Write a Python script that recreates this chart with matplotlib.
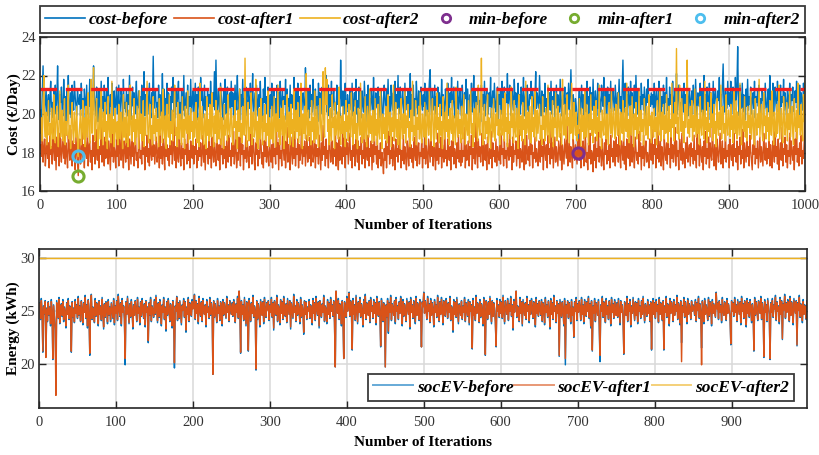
import numpy as np
import matplotlib
matplotlib.use("Agg")
import matplotlib.pyplot as plt
from matplotlib.lines import Line2D

# ---------------------------------------------------------------------------
# Data: one value per iteration, stored as two-digit codes in tenths above a
# base level (value = base + code / 10), 50 iterations per row.
# ---------------------------------------------------------------------------
COST_BASE = 16.0
SOC_BASE = 17.0

cost_before_codes = [
    "42 38 51 65 44 40 47 53 39 45 50 36 49 57 41 46 38 52 44 55 40 48 65 43 37 50 46 54 41 39 58 45 49 36 52 47 60 43 40 51 38 55 46 42 57 49 44 39 53 47",
    "45 50 39 56 43 48 37 53 46 41 55 40 49 44 58 38 51 47 42 65 50 44 39 54 46 36 52 48 41 57 43 49 38 55 45 40 53 47 59 42 37 50 44 56 39 48 52 41 46 54",
    "40 47 55 38 44 52 49 36 58 43 46 41 53 39 50 45 60 42 37 48 54 44 51 40 47 57 38 45 52 43 49 36 55 41 46 62 39 50 44 53 40 48 56 42 38 51 45 70 43 49",
    "52 41 46 38 55 44 50 39 47 61 42 53 37 48 45 56 40 51 43 49 36 54 46 59 41 47 38 52 44 50 57 40 46 35 53 48 42 60 39 45 51 43 55 37 49 44 58 41 47 52",
    "39 48 56 43 50 37 54 45 41 59 47 52 38 46 55 42 49 36 53 44 50 40 57 46 39 51 44 62 42 68 45 38 53 47 41 56 49 43 37 52 46 58 40 48 54 39 45 51 43 57",
    "44 51 38 47 55 42 49 60 40 46 53 37 50 44 58 41 48 36 54 45 39 52 47 43 56 40 49 61 38 45 51 42 55 47 39 50 44 57 41 48 36 53 46 59 43 49 40 54 45 38",
    "50 43 56 39 47 53 41 48 36 55 44 51 38 57 46 42 52 40 49 45 58 37 53 44 48 41 55 39 50 46 43 59 38 47 52 40 56 45 49 37 54 42 48 51 44 39 64 46 41 53",
    "47 38 55 44 50 41 58 46 39 53 43 49 36 56 45 51 40 48 54 42 37 52 46 60 41 47 55 39 50 44 57 38 48 53 42 46 40 55 45 51 43 38 68 49 44 52 40 47 56 43",
    "41 50 45 37 53 48 42 56 39 46 51 44 58 40 47 35 54 43 49 38 52 45 41 57 46 36 50 44 55 39 48 42 53 47 40 59 44 37 51 46 43 54 38 49 45 52 41 34 48 55",
    "46 39 53 44 58 41 49 36 55 47 42 51 38 57 45 50 43 60 40 48 54 37 46 52 44 39 56 42 49 45 53 38 47 61 41 50 44 55 39 48 43 57 46 40 52 37 49 54 45 42",
    "50 44 56 39 47 53 41 48 57 63 45 38 52 46 42 55 40 49 36 54 44 51 47 39 58 43 50 45 37 53 48 41 56 44 39 51 46 59 42 48 54 38 45 50 43 57 40 47 52 44",
    "39 55 46 42 51 48 58 40 53 45 37 50 44 56 41 47 60 43 52 38 49 45 54 41 47 36 55 44 50 42 57 39 48 53 46 40 51 44 59 38 47 52 43 56 45 41 49 54 37 50",
    "45 52 40 57 47 43 54 38 50 46 61 41 49 55 44 39 53 47 42 58 45 51 37 48 56 43 50 40 54 46 44 59 39 47 52 42 55 45 38 50 48 57 41 53 46 40 49 62 43 51",
    "47 43 60 46 39 52 45 50 41 56 44 48 37 54 46 51 42 57 40 49 45 53 38 47 55 43 50 46 41 58 44 39 52 48 45 54 40 47 51 43 56 42 49 63 46 38 50 45 41 48",
    "44 37 20 46 52 40 48 55 43 50 38 47 53 41 57 45 49 36 54 44 51 42 58 40 47 52 45 39 56 43 50 46 41 55 48 44 59 40 47 52 38 54 45 50 43 57 41 48 53 46",
    "42 55 47 40 51 45 58 43 49 37 53 68 46 41 56 44 50 39 54 47 42 57 45 51 38 48 55 43 60 46 40 52 44 49 37 56 45 50 42 54 47 39 53 46 58 41 49 44 51 45",
    "50 43 56 39 48 53 45 41 57 47 52 38 49 44 55 40 51 46 59 42 48 36 54 45 50 43 57 39 47 52 44 61 40 49 55 42 46 38 53 47 41 56 44 50 45 58 39 48 52 43",
    "46 52 40 55 47 43 58 45 38 51 49 44 56 41 53 47 39 60 45 50 42 54 48 37 56 44 51 46 40 57 43 49 53 45 38 52 47 59 42 50 44 55 66 46 41 53 48 43 57 45",
    "51 44 57 40 48 54 46 42 59 47 53 75 45 39 55 48 43 56 41 50 46 37 53 44 58 42 49 45 54 40 47 51 43 57 38 49 46 52 44 55 41 48 36 53 47 50 43 56 45 39",
    "48 53 41 60 46 50 43 56 39 49 54 45 41 57 47 52 38 55 44 49 46 58 42 51 45 37 53 48 43 56 40 50 47 54 44 41 52 46 57 43 49 38 55 45 51 47 42 56 48 52",
]

cost_after1_codes = [
    "24 18 31 15 22 27 13 20 35 17 25 12 29 19 23 14 33 21 16 26 11 28 18 24 13 30 20 15 27 22 17 36 14 25 19 12 29 23 16 32 20 13 26 18 24 11 28 21 15 08",
    "22 27 14 19 31 16 24 12 28 20 17 34 13 23 26 15 21 11 29 18 25 14 32 20 16 27 12 23 19 38 15 24 21 13 28 17 22 30 14 26 19 11 25 18 33 15 23 20 12 27",
    "18 24 13 29 21 16 35 19 12 26 22 15 30 17 23 11 27 20 14 33 18 25 13 22 28 16 20 12 31 24 17 21 14 36 19 26 11 23 18 29 15 22 13 27 20 16 32 18 24 14",
    "21 28 15 19 25 12 30 17 23 14 27 20 11 34 18 24 16 22 13 29 19 26 14 21 40 16 23 12 28 18 15 31 20 13 25 17 22 11 27 19 24 14 33 16 21 12 26 20 17 29",
    "14 23 19 27 12 21 16 32 18 25 13 20 29 15 24 11 26 19 22 14 37 17 23 12 28 20 15 25 18 13 30 21 16 24 11 27 19 22 14 34 17 23 12 26 20 15 29 18 21 13",
    "25 18 31 14 22 27 12 20 16 28 23 13 35 19 24 11 21 17 29 15 26 20 12 23 18 33 14 22 27 16 11 25 19 30 13 21 17 28 24 14 20 12 26 18 32 15 23 19 13 27",
    "20 15 24 12 29 18 22 14 36 19 25 11 27 17 21 13 30 23 16 26 12 20 33 15 24 18 11 28 21 14 25 17 31 13 22 19 27 12 24 16 20 38 14 23 18 26 13 21 29 15",
    "23 17 28 13 21 26 15 19 32 12 24 18 22 14 29 20 11 25 16 34 19 23 13 27 17 21 12 30 24 15 20 26 14 22 18 39 13 25 19 11 28 16 23 20 14 31 18 24 12 27",
    "19 25 14 22 30 16 21 12 27 18 24 13 33 20 15 26 11 23 19 28 14 21 17 35 12 25 20 16 29 13 22 18 26 11 24 15 31 19 23 14 27 12 21 17 25 13 20 15 09 22",
    "16 26 12 23 19 31 14 21 17 28 13 24 20 11 27 18 22 15 34 19 25 12 21 16 29 14 23 18 11 26 20 13 30 17 24 15 22 12 28 19 16 37 13 21 25 14 20 18 27 12",
    "22 17 29 14 24 19 12 27 21 15 32 18 23 13 26 20 11 25 16 30 14 22 18 28 12 24 19 15 35 17 21 13 27 20 16 23 11 26 18 31 14 22 19 12 25 17 29 15 21 13",
    "27 15 21 18 33 12 24 16 20 26 13 23 19 29 11 22 17 25 14 38 20 12 27 18 23 15 21 30 13 26 19 16 24 11 28 20 14 22 17 31 12 25 18 21 15 27 13 23 19 16",
    "24 14 30 19 22 13 27 17 21 12 25 20 16 34 18 23 11 28 15 21 19 26 13 24 17 32 12 22 20 15 27 18 11 25 14 29 21 16 23 13 36 19 24 12 20 17 28 15 22 18",
    "13 26 20 15 31 18 23 11 27 21 16 24 12 29 19 22 14 33 17 25 12 20 28 15 23 18 13 26 21 16 30 11 24 19 14 27 22 17 35 13 20 25 15 23 18 12 28 21 16 24",
    "19 14 27 21 16 32 12 23 18 26 13 22 29 15 20 11 25 17 30 14 21 19 10 24 16 28 12 22 18 34 15 23 20 13 27 17 11 25 19 31 14 21 16 24 12 29 18 22 15 26",
    "21 13 28 18 24 15 33 19 12 26 22 16 30 14 23 11 27 20 17 25 13 21 37 15 24 19 12 28 22 16 20 14 31 18 25 11 23 17 29 13 21 26 15 20 18 12 27 23 16 32",
    "14 24 19 27 12 22 17 35 15 21 26 13 23 18 11 29 20 16 25 14 31 19 22 12 28 17 24 15 20 33 13 26 18 21 11 27 23 16 30 14 22 19 12 25 17 28 15 21 24 13",
    "25 18 22 14 29 16 21 12 34 19 24 13 27 20 15 23 11 26 18 31 14 22 17 28 12 25 19 16 36 21 13 24 18 11 27 20 15 23 30 14 19 26 12 22 17 33 15 21 18 24",
    "12 27 20 16 24 13 30 18 22 15 26 11 23 19 28 14 21 17 32 12 25 20 15 27 18 23 13 29 21 16 11 24 19 35 14 22 17 26 12 20 28 15 23 18 13 30 21 16 25 14",
    "22 17 29 13 24 19 12 26 21 15 31 18 23 14 27 11 20 25 16 33 13 22 19 28 15 24 12 21 18 30 14 26 20 16 23 11 27 19 34 15 22 13 25 18 29 14 21 17 26 38",
]

cost_after2_codes = [
    "30 38 26 45 60 33 28 41 24 36 47 29 35 22 43 31 27 50 34 25 39 44 30 23 37 52 28 33 42 26 31 48 24 36 29 40 55 27 34 22 38 46 30 25 41 33 28 44 26 18",
    "29 35 42 24 31 47 27 38 23 44 33 28 51 36 25 40 58 30 45 64 32 26 39 48 29 22 37 43 27 53 34 24 41 31 46 26 36 22 49 33 28 40 25 57 30 37 23 43 32 27",
    "36 24 45 30 27 41 33 22 50 28 38 25 46 32 23 42 29 55 35 26 39 31 48 24 37 28 44 33 22 52 30 40 26 35 47 23 38 29 43 57 31 25 36 45 27 34 24 49 30 39",
    "26 43 31 37 23 48 29 35 41 25 53 32 27 39 22 45 34 28 50 24 36 30 42 26 38 55 29 33 23 46 31 27 40 35 24 49 28 37 22 44 33 30 52 25 39 27 43 31 36 24",
    "41 28 34 46 25 31 38 23 56 33 27 44 30 24 40 35 22 49 29 37 26 45 32 28 51 34 23 39 30 47 25 36 42 27 33 54 24 38 31 22 45 29 35 40 26 50 32 28 37 43",
    "30 24 39 33 47 27 36 22 42 31 53 28 35 25 44 38 29 69 34 23 40 46 26 33 30 51 24 37 41 28 32 58 25 36 22 43 30 27 48 34 24 39 31 45 26 35 29 52 23 38",
    "33 27 44 30 25 49 36 23 40 31 55 28 37 24 43 34 29 47 22 39 32 26 50 35 28 41 24 45 30 37 23 53 33 27 42 31 46 25 38 29 56 34 22 40 30 44 27 61 35 26",
    "42 29 36 24 47 31 38 25 52 34 27 44 30 23 39 48 33 26 41 62 35 28 64 45 58 31 37 24 43 30 26 50 33 38 22 46 29 35 41 27 54 32 24 39 30 44 28 36 23 47",
    "31 39 26 45 33 28 51 36 24 41 30 47 27 35 22 43 38 29 56 32 25 40 34 27 49 31 23 44 36 28 53 30 39 25 42 33 26 48 29 37 24 45 31 27 52 35 22 40 30 38",
    "27 44 33 25 50 36 29 41 23 38 31 55 26 34 46 28 37 24 43 32 22 48 35 27 40 30 53 25 39 33 45 28 36 23 42 31 57 26 34 29 47 24 38 32 44 27 51 30 25 40",
    "35 28 46 31 24 42 37 29 53 33 26 40 48 30 23 44 35 27 51 32 38 25 45 29 36 22 49 34 27 41 31 56 28 37 24 43 33 30 47 26 39 32 24 54 35 28 42 30 37 25",
    "44 31 27 50 36 24 40 33 29 47 25 38 52 30 35 23 43 28 37 46 32 26 55 34 29 41 69 31 24 39 45 27 36 30 50 25 38 33 22 43 35 28 48 31 26 40 34 53 29 37",
    "24 42 33 29 48 35 26 51 31 38 23 45 30 36 27 54 33 40 25 47 31 28 43 36 22 50 34 29 39 26 46 32 37 24 57 30 35 41 27 44 33 25 49 31 38 28 52 34 26 42",
    "30 37 45 27 34 24 49 32 39 26 43 36 29 55 31 25 41 34 28 47 23 38 33 51 30 26 44 35 28 40 32 24 58 36 29 45 31 27 50 34 38 25 42 30 56 33 27 46 35 29",
    "41 26 34 30 48 36 23 43 31 39 27 53 33 28 45 35 24 40 32 50 29 37 25 44 34 30 47 26 38 31 55 28 36 22 42 33 29 49 35 27 40 31 24 46 37 30 52 28 35 43",
    "32 27 45 36 29 51 33 24 41 38 30 47 26 35 43 31 56 28 37 25 44 33 29 49 35 23 40 32 46 27 38 30 53 34 26 42 31 37 24 48 36 29 44 32 27 50 34 39 25 41",
    "35 28 43 31 38 24 47 33 29 52 36 26 41 32 45 27 39 30 50 34 25 44 31 37 28 56 33 40 26 46 35 74 30 38 27 55 42 31 48 29 36 25 45 33 40 68 30 37 28 44",
    "33 47 26 39 31 53 35 28 44 30 37 24 49 34 29 42 36 27 57 32 38 25 46 31 35 28 51 33 40 26 45 30 36 23 48 34 29 41 32 55 27 38 44 30 35 26 50 33 29 42",
    "36 28 45 32 39 25 52 34 30 47 27 41 35 29 56 33 24 43 37 31 49 28 36 26 44 33 39 30 53 27 35 42 31 24 48 36 29 40 33 58 28 37 45 30 26 51 34 39 27 43",
    "31 38 26 47 34 29 52 36 24 41 33 28 45 30 37 55 27 35 43 31 25 49 38 29 34 46 26 40 32 53 28 37 44 30 24 48 35 31 42 27 56 33 39 29 45 32 26 50 36 57",
]

soc_before_codes = [
    "88 72 92 80 41 85 77 90 37 83 70 89 76 84 66 91 79 34 86 74 62 25 90 81 73 93 68 82 87 75 91 70 84 79 64 88 77 92 72 85 80 41 89 74 83 69 91 78 86 73",
    "94 76 85 70 90 82 67 88 79 95 73 86 64 91 78 38 87 96 72 84 80 69 92 75 88 81 66 90 77 85 71 93 79 63 87 74 89 82 68 91 76 84 70 88 80 73 92 67 85 78",
    "90 71 96 83 75 88 66 92 79 85 72 29 89 77 94 81 68 87 74 91 80 63 86 76 90 82 70 93 78 84 67 89 75 92 81 73 87 65 90 79 84 50 88 76 93 70 85 80 74 91",
    "77 95 82 69 88 74 91 80 66 86 79 93 72 84 61 89 76 92 83 70 87 78 64 90 75 26 85 81 94 71 88 73 90 79 67 86 82 92 74 89 60 84 77 93 70 88 80 75 91 83",
    "85 96 72 90 78 87 68 94 81 75 89 70 92 83 77 86 65 91 79 84 73 93 76 88 82 20 90 74 87 80 69 92 78 85 71 89 83 66 91 76 88 81 73 94 79 86 70 90 84 77",
    "88 75 91 82 69 87 79 94 73 99 84 40 90 77 86 71 93 80 66 89 76 42 92 83 70 88 78 95 74 85 81 24 90 72 87 79 65 91 84 76 89 68 93 80 74 88 82 90 71 86",
    "79 93 74 88 62 90 81 76 95 70 86 83 67 91 78 89 72 94 80 75 87 69 92 84 77 90 63 88 81 73 96 79 85 70 91 76 88 82 68 93 74 86 80 58 90 77 89 72 84 81",
    "91 73 86 80 67 92 78 88 71 94 83 76 89 64 90 81 74 87 79 95 70 85 82 68 91 77 88 73 93 80 86 75 90 69 27 99 84 78 92 72 87 81 66 90 76 35 89 83 74 94",
    "80 87 98 75 90 83 43 92 77 86 71 95 82 68 89 79 93 74 87 81 65 91 78 96 72 88 84 76 90 69 93 80 85 73 91 78 88 67 94 82 75 89 79 46 92 84 70 88 81 27",
    "86 74 92 59 88 79 95 71 87 83 76 90 68 93 80 85 72 89 78 94 82 66 91 75 87 80 70 92 84 77 89 63 93 79 86 73 90 81 68 94 76 88 83 71 91 79 46 89 85 98",
    "78 90 83 72 94 80 87 69 92 76 88 82 65 91 79 86 74 95 81 70 89 77 93 84 67 90 80 75 92 86 73 88 79 94 71 85 82 60 91 77 89 74 93 81 68 87 83 76 90 72",
    "85 79 93 70 88 82 75 91 67 89 80 86 44 92 76 84 71 95 78 88 83 69 91 74 87 81 66 93 79 38 90 84 72 89 77 94 81 68 90 75 88 83 70 46 92 80 86 74 91 78",
    "89 73 95 81 68 90 84 77 92 71 87 80 94 75 86 62 91 79 88 99 74 85 82 70 93 78 89 66 91 83 76 88 72 94 80 86 69 90 77 92 84 73 89 81 65 93 78 87 75 90",
    "82 76 91 70 88 84 67 93 79 86 74 90 81 63 92 77 88 72 95 80 85 69 90 78 87 37 91 83 74 89 80 66 92 29 86 78 90 73 88 82 68 91 76 84 55 89 80 93 71 87",
    "79 90 84 71 93 77 86 68 91 82 75 89 80 94 73 87 64 90 42 85 78 92 70 88 83 76 91 67 32 86 80 94 74 89 81 69 92 77 85 72 90 84 66 93 79 87 73 91 82 76",
    "88 74 92 81 67 90 79 86 72 39 89 83 76 94 70 87 80 91 65 85 78 93 82 71 89 76 88 68 92 80 85 73 90 77 94 81 69 87 83 75 91 78 86 70 89 43 84 92 77 88",
    "73 91 80 86 69 93 77 88 82 71 90 43 85 79 94 74 87 81 66 92 78 89 83 70 91 76 86 80 95 72 88 84 67 90 50 85 79 93 74 89 81 68 92 77 87 83 72 90 80 86",
    "84 76 91 70 88 82 94 73 87 79 45 90 83 68 92 77 86 81 71 93 75 89 84 66 91 78 87 80 74 98 83 88 72 90 79 86 69 93 81 76 89 84 71 92 78 87 80 74 48 90",
    "81 88 75 93 79 86 70 91 84 77 89 67 94 80 87 73 90 82 65 92 78 88 74 91 83 69 87 80 42 93 76 89 82 71 90 85 78 94 72 88 81 36 91 79 86 70 92 84 77 34",
    "88 79 92 74 86 83 95 71 89 80 85 68 93 77 90 53 87 82 96 73 88 79 91 84 70 94 76 89 81 67 92 85 78 90 47 88 82 95 74 87 80 69 91 77 86 83 72 90 64 50",
]

soc_after1_codes = [
    "87 73 90 80 42 84 78 89 36 82 71 88 77 83 68 89 79 35 85 75 64 00 88 80 74 91 69 82 86 76 89 72 83 79 66 87 77 90 73 84 80 42 88 75 82 70 89 78 85 74",
    "92 77 84 71 89 81 69 87 79 93 74 85 66 90 78 40 86 95 73 83 80 70 90 76 87 80 68 89 77 84 72 91 79 65 86 75 88 81 70 89 77 83 72 87 80 74 90 69 84 78",
    "89 72 94 82 76 87 68 90 79 84 73 35 88 77 92 80 69 86 75 89 80 65 85 76 89 81 71 91 78 83 69 88 76 90 80 74 86 67 89 79 83 52 87 77 91 71 84 80 75 89",
    "78 93 81 71 87 75 89 80 68 85 79 91 73 83 63 88 77 90 82 71 86 78 66 89 76 31 84 80 93 72 87 74 89 79 69 85 81 90 75 88 62 83 77 91 71 87 80 76 89 82",
    "84 95 73 89 78 86 70 92 80 76 88 71 90 82 77 85 67 89 79 83 74 91 77 87 81 20 89 75 86 80 70 90 78 84 72 88 82 68 89 77 87 80 74 92 79 85 71 89 83 77",
    "87 76 89 81 70 86 79 92 74 99 83 41 89 77 85 72 91 80 68 88 77 43 90 82 71 87 78 93 75 84 80 25 89 73 86 79 67 89 83 76 88 70 91 80 75 87 81 89 72 85",
    "79 91 75 87 64 89 80 77 93 71 85 82 69 90 78 88 73 92 80 76 86 70 90 83 77 89 65 87 80 74 94 79 84 71 89 77 87 81 70 91 75 85 80 60 89 77 88 73 83 80",
    "89 74 85 80 69 90 78 87 72 92 82 77 88 66 89 80 75 86 79 93 71 84 81 70 89 77 87 74 91 80 85 76 89 70 27 99 83 78 90 73 86 80 68 89 76 35 88 82 75 92",
    "80 86 97 76 89 82 44 90 77 85 72 93 81 70 88 79 91 75 86 80 67 89 78 94 73 87 83 76 89 70 91 80 84 74 89 78 87 69 92 81 76 88 79 47 90 83 71 87 80 27",
    "85 75 90 61 87 79 93 72 86 82 76 89 70 91 80 84 73 88 78 92 81 68 89 76 86 80 71 90 83 77 88 65 91 79 85 74 89 80 70 92 76 87 82 72 89 79 46 88 84 97",
    "78 89 82 73 92 80 86 70 90 76 87 81 67 89 79 85 75 93 80 71 88 77 91 83 69 89 80 76 90 85 74 87 79 92 72 84 81 62 89 77 88 75 91 80 70 86 82 76 89 73",
    "84 79 91 71 87 81 76 89 69 88 80 85 45 90 76 83 72 93 78 87 82 70 89 75 86 80 68 91 79 39 89 83 73 88 77 92 80 70 89 75 87 82 71 47 90 80 85 75 89 78",
    "88 74 93 80 70 89 83 77 90 72 86 80 92 76 85 64 89 79 87 99 75 84 81 71 91 78 88 68 89 82 76 87 73 92 80 85 71 89 77 90 83 74 88 80 67 91 78 86 76 89",
    "81 77 89 71 87 83 69 91 79 85 75 89 80 65 90 77 87 73 93 80 84 70 89 78 86 38 89 82 75 88 80 68 90 35 85 78 89 74 87 81 70 89 76 83 56 88 80 91 72 86",
    "79 89 83 72 91 77 85 70 89 81 76 88 80 92 74 86 66 89 43 84 78 90 71 87 82 76 89 69 38 85 80 92 75 88 80 70 90 77 84 73 89 83 68 91 79 86 74 89 81 76",
    "87 75 90 80 69 89 79 85 73 40 88 82 76 92 71 86 80 89 67 84 78 91 81 72 88 76 87 70 90 80 84 74 89 77 92 80 71 86 82 76 89 78 85 71 88 44 83 90 77 87",
    "74 89 80 85 70 91 77 87 81 72 89 44 84 79 92 75 86 80 68 90 78 88 82 71 89 76 85 80 93 73 87 83 69 89 32 84 79 91 75 88 80 70 90 77 86 82 73 89 80 85",
    "83 77 89 71 87 81 92 74 86 79 29 89 82 70 90 77 85 80 72 91 76 88 83 68 89 78 86 80 75 97 82 87 73 89 79 85 71 91 80 76 88 83 72 90 78 86 80 75 49 89",
    "80 87 76 91 79 85 71 89 83 77 88 69 92 80 86 74 89 81 67 90 78 87 75 89 82 71 86 80 43 91 77 88 81 72 89 84 78 92 73 87 80 37 89 79 85 71 90 83 77 35",
    "87 79 90 75 85 82 93 72 88 80 84 70 91 77 89 54 86 81 94 74 87 79 89 83 71 92 76 88 80 69 90 84 78 89 48 87 81 93 75 86 80 71 89 77 85 82 73 89 65 48",
]

soc_after2_level = 30.0        # kWh, constant for every iteration
reference_cost = 21.3          # €/Day, dashed reference level

series_labels = ["cost-before", "cost-after1", "cost-after2"]
min_labels = ["min-before", "min-after1", "min-after2"]
soc_labels = ["socEV-before", "socEV-after1", "socEV-after2"]


def decode(rows, base):
    codes = " ".join(rows).split()
    return base + np.array([int(c) for c in codes], dtype=float) / 10.0


cost_before = decode(cost_before_codes, COST_BASE)
cost_after1 = decode(cost_after1_codes, COST_BASE)
cost_after2 = decode(cost_after2_codes, COST_BASE)
soc_before = decode(soc_before_codes, SOC_BASE)
soc_after1 = decode(soc_after1_codes, SOC_BASE)

# ---------------------------------------------------------------------------
# Styling
# ---------------------------------------------------------------------------
plt.rcParams["font.family"] = ["Liberation Serif", "DejaVu Serif"]

C_BLUE = "#0072BD"
C_ORANGE = "#D95319"
C_YELLOW = "#EDB120"
C_PURPLE = "#7E2F8E"
C_GREEN = "#77AC30"
C_CYAN = "#4DBEEE"
C_RED = "#F21F1F"
C_AXIS = "#262626"
C_TICK = "#333333"
C_GRID = "#D9D9D9"

cost_colors = [C_BLUE, C_ORANGE, C_YELLOW]
min_colors = [C_PURPLE, C_GREEN, C_CYAN]
soc_colors = [C_BLUE, C_ORANGE, C_YELLOW]

W, H = 819, 455
fig = plt.figure(figsize=(W / 100, H / 100), dpi=100)


def frac_box(x0, y0, x1, y1):
    """Pixel box (top-left origin) to figure-fraction rect."""
    return [x0 / W, 1 - y1 / H, (x1 - x0) / W, (y1 - y0) / H]


ax1 = fig.add_axes(frac_box(40, 37, 805, 191))
ax2 = fig.add_axes(frac_box(39, 249, 807, 408))


def style_axes(ax):
    ax.set_axisbelow(True)
    ax.grid(True, color=C_GRID, linewidth=1.1)
    for sp in ax.spines.values():
        sp.set_color(C_AXIS)
        sp.set_linewidth(1.2)
    ax.tick_params(direction="in", length=5, width=1.0, color=C_AXIS,
                   top=True, right=True, labelsize=10.5, labelcolor=C_TICK)
    ax.tick_params(axis="x", pad=6)
    ax.tick_params(axis="y", pad=3)


label_font = {"fontsize": 11, "fontweight": "bold"}

# ---- top panel: cost per iteration ----
cost_series = [cost_before, cost_after1, cost_after2]
for y, c in zip(cost_series, cost_colors):
    x = np.arange(1, len(y) + 1)
    ax1.plot(x, y, color=c, linewidth=1.0)

ax1.axhline(reference_cost, color=C_RED, linewidth=2.4,
            linestyle=(0, (5, 2.6)))

for y, c in zip(cost_series, min_colors):
    i = int(np.argmin(y))
    ax1.plot(i + 1, y[i], linestyle="none", marker="o", markersize=8,
             markerfacecolor="none", markeredgecolor=c, markeredgewidth=2.2)

ax1.set_xlim(0, 1000)
ax1.set_ylim(16, 24)
ax1.set_xticks(np.arange(0, 1001, 100))
ax1.set_yticks(np.arange(16, 25, 2))
style_axes(ax1)
ax1.set_xlabel("Number of Iterations", labelpad=5, **label_font)
ax1.set_ylabel("Cost (€/Day)", labelpad=0, **label_font)

legend_font = {"family": ["Liberation Serif"], "size": 12.5,
               "style": "italic", "weight": "bold"}

handles_top = [Line2D([], [], color=c, linewidth=1.2) for c in cost_colors]
handles_top += [Line2D([], [], linestyle="none", marker="o", markersize=6,
                       markerfacecolor="none", markeredgecolor=c,
                       markeredgewidth=2.0) for c in min_colors]
leg1 = fig.legend(handles_top, series_labels + min_labels, ncol=6,
                  loc="center", mode="expand",
                  bbox_to_anchor=frac_box(40, 4, 805, 35), prop=legend_font,
                  handlelength=2.3, handletextpad=0.2, columnspacing=0.8,
                  borderaxespad=0, borderpad=0.3, fancybox=False,
                  frameon=True, edgecolor="#3a3a3a", framealpha=1)
leg1.get_frame().set_linewidth(1.3)

# ---- bottom panel: EV state of charge ----
soc_after2 = np.full(len(soc_before), soc_after2_level)
soc_series = [soc_before, soc_after1, soc_after2]
for y, c in zip(soc_series, soc_colors):
    x = np.arange(1, len(y) + 1)
    ax2.plot(x, y, color=c, linewidth=1.05)

ax2.set_xlim(0, 998)
ax2.set_ylim(15.8, 30.9)
ax2.set_xticks(np.arange(0, 901, 100))
ax2.set_yticks([20, 25, 30])
style_axes(ax2)
ax2.set_xlabel("Number of Iterations", labelpad=5, **label_font)
ax2.set_ylabel("Energy (kWh)", labelpad=0, **label_font)

handles_bot = [Line2D([], [], color=c, linewidth=1.4, alpha=0.6)
               for c in soc_colors]
leg2 = fig.legend(handles_bot, soc_labels, ncol=3, loc="center",
                  mode="expand", bbox_to_anchor=frac_box(368, 372, 794, 403),
                  prop=legend_font,
                  handlelength=2.3, handletextpad=0.2, columnspacing=0.8,
                  borderaxespad=0, borderpad=0.3, fancybox=False,
                  frameon=True, edgecolor="#3a3a3a", framealpha=1)
leg2.get_frame().set_linewidth(1.3)

fig.savefig("out.png", dpi=100)
